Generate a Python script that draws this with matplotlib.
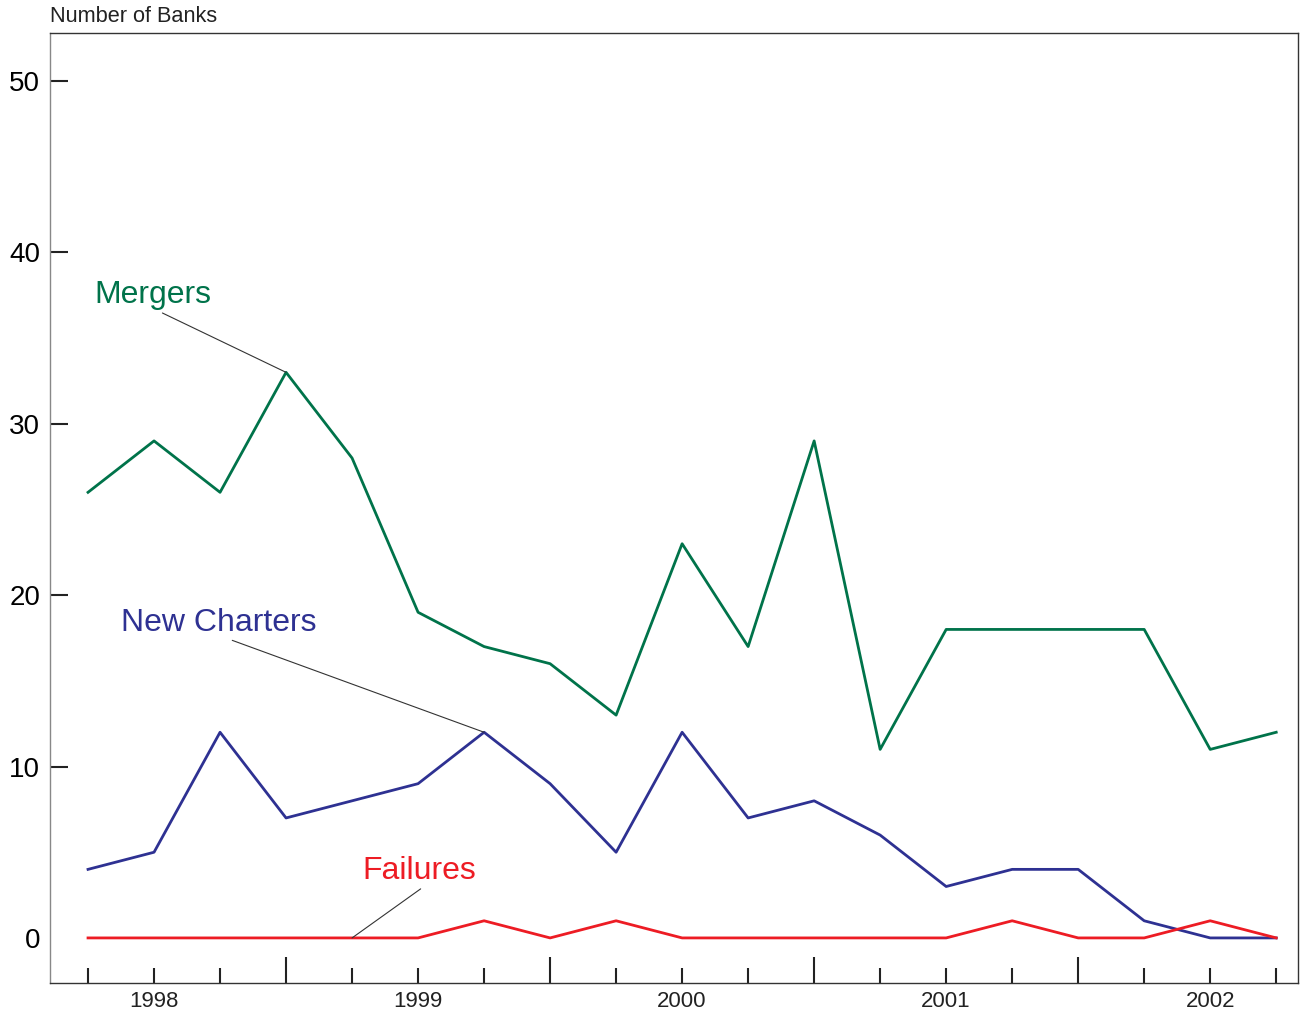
import matplotlib
matplotlib.use("Agg")
import matplotlib.pyplot as plt

plt.rcParams['font.family'] = ['Liberation Sans', 'DejaVu Sans']

# quarterly observations, 1997 Q4 .. 2002 Q2
quarters = list(range(19))
mergers = [26, 29, 26, 33, 28, 19, 17, 16, 13, 23, 17, 29, 11, 18, 18, 18, 18, 11, 12]
new_charters = [4, 5, 12, 7, 8, 9, 12, 9, 5, 12, 7, 8, 6, 3, 4, 4, 1, 0, 0]
failures = [0, 0, 0, 0, 0, 0, 1, 0, 1, 0, 0, 0, 0, 0, 1, 0, 0, 1, 0]
year_labels = ['1998', '1999', '2000', '2001', '2002']
year_pos = [1, 5, 9, 13, 17]
major_pos = [3, 7, 11, 15]

green = '#00734a'
blue = '#2e3192'
red = '#ed1c24'

fig = plt.figure(figsize=(13.05, 10.13), dpi=100)
ax = fig.add_axes([50 / 1305, 1 - 983 / 1013, 1248 / 1305, 950 / 1013])

ax.plot(quarters, mergers, color=green, lw=2.0)
ax.plot(quarters, new_charters, color=blue, lw=2.0)
ax.plot(quarters, failures, color=red, lw=2.0)

ax.set_xlim(-0.576, 18.33)
ax.set_ylim(-2.63, 52.8)

for s in ax.spines.values():
    s.set_color('#333333')
    s.set_linewidth(1.0)
ax.spines['left'].set_color('#888888')

ax.set_yticks([10, 20, 30, 40, 50])
ax.set_yticklabels(['10', '20', '30', '40', '50'])
ax.tick_params(axis='y', direction='in', length=13, width=1.5, color='#222222',
               labelsize=20, pad=7)
ax.set_yticks([0], minor=True)
ax.set_yticklabels(['0'], minor=True)
ax.tick_params(axis='y', which='minor', length=0, labelsize=20, pad=7)

# short ticks every quarter, long ticks at mid-year
short_pos = [q for q in quarters if q not in major_pos]
ax.set_xticks(short_pos)
ax.set_xticklabels([''] * len(short_pos))
ax.tick_params(axis='x', direction='in', length=11, width=1.5, color='#222222')
ax.set_xticks(major_pos, minor=True)
ax.set_xticklabels([''] * len(major_pos), minor=True)
ax.tick_params(axis='x', which='minor', direction='in', length=19, width=1.5,
               color='#222222')
for p, lab in zip(year_pos, year_labels):
    ax.text(p, -3.1, lab, ha='center', va='top', fontsize=16, color='#222222')

fig.text(50 / 1305, 1 - 16 / 1013, 'Number of Banks', ha='left', va='center',
         fontsize=15.7, color='#222222')

ax.annotate('Mergers', xy=(3, 33), xytext=(0.1, 37.5), color=green, fontsize=23,
            ha='left', va='center',
            arrowprops=dict(arrowstyle='-', color='#333333', lw=0.8,
                            shrinkA=0, shrinkB=0, relpos=(0.53, 0)))
ax.annotate('New Charters', xy=(6, 12), xytext=(0.5, 18.4), color=blue, fontsize=23,
            ha='left', va='center',
            arrowprops=dict(arrowstyle='-', color='#333333', lw=0.8,
                            shrinkA=0, shrinkB=0, relpos=(0.53, 0)))
ax.annotate('Failures', xy=(4, 0), xytext=(4.15, 3.9), color=red, fontsize=23,
            ha='left', va='center',
            arrowprops=dict(arrowstyle='-', color='#333333', lw=0.8,
                            shrinkA=0, shrinkB=0, relpos=(0.55, 0)))

fig.savefig('out.png', dpi=100)
